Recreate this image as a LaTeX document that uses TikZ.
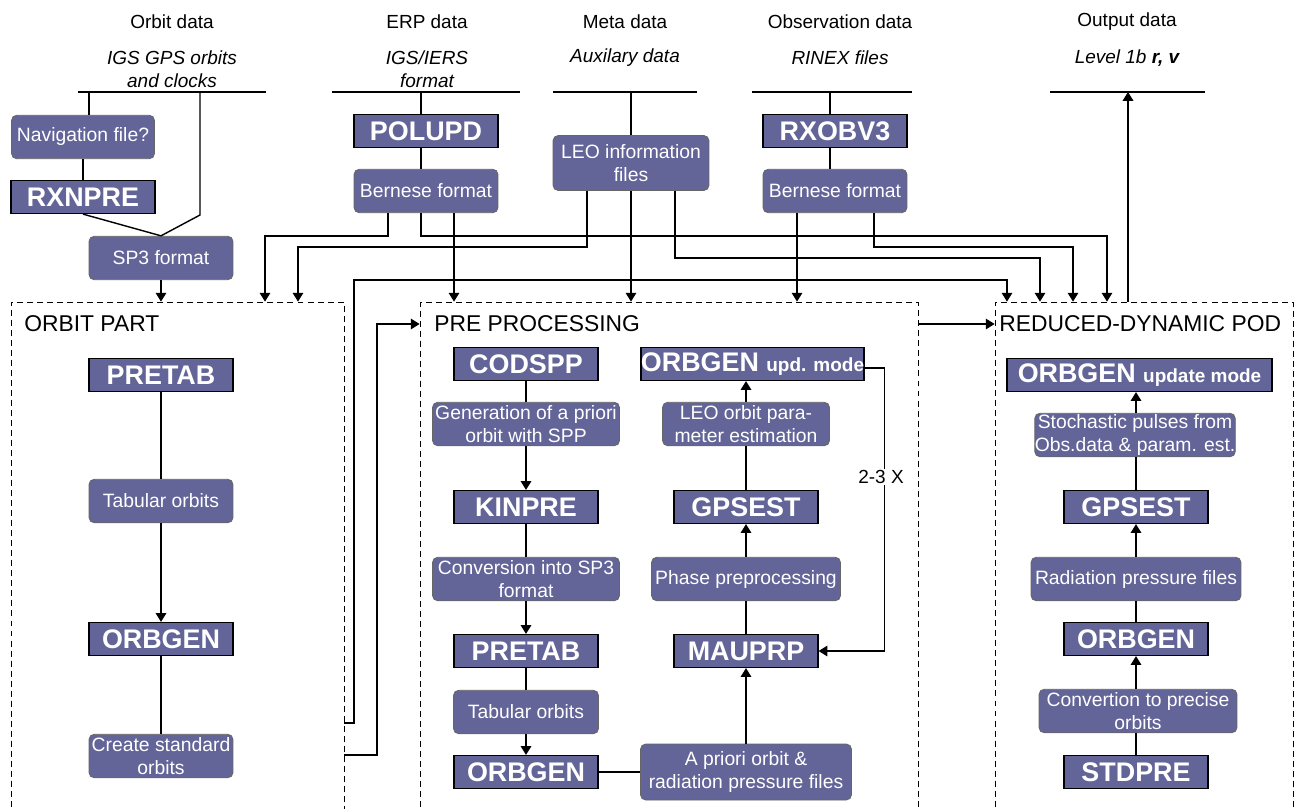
\documentclass[tikz,border=0pt]{standalone}
\usepackage{fontspec}
\setmainfont{Liberation Sans}
\usetikzlibrary{arrows.meta}
\definecolor{boxblue}{RGB}{99,100,152}
\tikzset{
  prog/.style={draw=black, line width=0.7pt, fill=boxblue, text=white,
    font=\fontsize{15.3}{16}\selectfont\bfseries, inner sep=0pt,
    minimum width=2.88cm, minimum height=0.66cm},
  info/.style={draw=black!60, line width=0.5pt, rounded corners=3pt, fill=boxblue,
    text=white, font=\fontsize{11}{13}\selectfont, align=center, inner sep=0pt,
    minimum height=0.87cm},
  part/.style={draw, dash pattern=on 3.4pt off 2.3pt, line width=0.5pt, inner sep=0pt},
  head/.style={font=\fontsize{10.8}{13}\selectfont},
  sub/.style={font=\fontsize{10.8}{13}\selectfont\itshape, align=center},
  title/.style={font=\fontsize{13}{15}\selectfont, anchor=west, inner sep=0pt},
  bar/.style={line width=1.3pt},
  link/.style={line width=0.8pt},
  arr/.style={link, -{Triangle[width=6pt,length=5pt]}},
}
\begin{document}
\begin{tikzpicture}[x=0.02cm,y=-0.02cm]
\useasboundingbox (0,0) rectangle (1301,808);

\node[head] (hOrbit) at (172,22) {Orbit data};
\node[head] (hErp) at (427,22) {ERP data};
\node[head] (hMeta) at (625,22) {Meta data};
\node[head] (hObs) at (840,22) {Observation data};
\node[head] (hOut) at (1127,22) {Output data};
\node[sub] (sOrbit) at (172,69.5) {IGS GPS orbits\\and clocks};
\node[sub] (sErp) at (427,69.5) {IGS/IERS\\format};
\node[sub] (sMeta) at (625,58) {Auxilary data};
\node[sub] (sObs) at (840,58) {RINEX files};
\node[sub] (sOut) at (1127,58) {Level 1b \textbf{r, v}};

\coordinate (b1a) at (78,92);   \coordinate (b1b) at (266,92);
\coordinate (b2a) at (332,92);  \coordinate (b2b) at (520,92);
\coordinate (b3a) at (553,92);  \coordinate (b3b) at (697,92);
\coordinate (b4a) at (752,92);  \coordinate (b4b) at (912,92);
\coordinate (b5a) at (1050,92); \coordinate (b5b) at (1205,92);
\draw[bar] (b1a) -- (b1b);
\draw[bar] (b2a) -- (b2b);
\draw[bar] (b3a) -- (b3b);
\draw[bar] (b4a) -- (b4b);
\draw[bar] (b5a) -- (b5b);
\coordinate (b1m) at (89,92);
\coordinate (b1n) at (200,92);
\coordinate (b2m) at (421,92);
\coordinate (b3m) at (631,92);
\coordinate (b4m) at (830,92);
\coordinate (b5m) at (1128,92);

% frames
\node[part, minimum width=6.66cm, minimum height=10.56cm] (orbitP) at (177.5,566) {};
\node[part, minimum width=9.96cm, minimum height=10.56cm] (preP) at (669,566) {};
\node[part, minimum width=5.96cm, minimum height=10.56cm] (redP) at (1144,566) {};
\node[title] (orbitT) at (24,324) {ORBIT PART};
\node[title] (preT) at (434,324) {PRE PROCESSING};
\node[title] (redT) at (999,324) {REDUCED-DYNAMIC POD};

% input boxes
\node[info, minimum width=2.86cm] (navfile) at (83,137) {Navigation file?};
\node[prog] (rxnpre) at (83,197) {RXNPRE};
\node[info, minimum width=2.88cm] (sp3) at (161,258) {SP3 format};
\node[prog] (polupd) at (426,131) {POLUPD};
\node[info, minimum width=2.88cm] (bernA) at (426,191) {Bernese format};
\node[info, minimum width=3.12cm, minimum height=1.1cm] (leoinfo) at (631,163) {LEO information\\files};
\node[prog] (rxobv3) at (835,131) {RXOBV3};
\node[info, minimum width=2.88cm] (bernB) at (835,191) {Bernese format};

\draw[link] (b1m) -- (b1m |- navfile.north);
\draw[link] (navfile) -- (rxnpre);
\coordinate (c0) at (200,215);
\draw[link] (rxnpre.south) -- (sp3.north) -- (c0) -- (b1n);
\draw[arr] (sp3.south) -- (sp3.south |- orbitP.north);
\draw[link] (b2m) -- (b2m |- polupd.north);
\draw[link] (b2m |- polupd.south) -- (b2m |- bernA.north);
\draw[link] (b3m) -- (leoinfo.north);
\draw[link] (b4m) -- (b4m |- rxobv3.north);
\draw[link] (b4m |- rxobv3.south) -- (b4m |- bernB.north);

\coordinate (eA1) at ([xshift=-0.76cm]bernA.south);
\coordinate (eA2) at ([xshift=-0.1cm]bernA.south);
\coordinate (eA3) at ([xshift=0.56cm]bernA.south);
\coordinate (eL1) at ([xshift=-0.88cm]leoinfo.south);
\coordinate (eL2) at (leoinfo.south);
\coordinate (eL3) at ([xshift=0.88cm]leoinfo.south);
\coordinate (eB1) at ([xshift=-0.76cm]bernB.south);
\coordinate (eB2) at ([xshift=0.78cm]bernB.south);
\coordinate (c1) at (265,236);
\coordinate (c2) at (1107,236);
\coordinate (c4) at (298,247);
\coordinate (c6) at (1040,258);
\coordinate (c8) at (1073,247);
\coordinate (c9) at (1007,280);

\draw[arr] (eA1) |- (c1) -- (c1 |- orbitP.north);
\draw[arr] (eA2) |- (c2) -- (c2 |- redP.north);
\draw[arr] (eA3) -- (eA3 |- preP.north);
\draw[arr] (eL1) |- (c4) -- (c4 |- orbitP.north);
\draw[arr] (eL2) -- (eL2 |- preP.north);
\draw[arr] (eL3) |- (c6) -- (c6 |- redP.north);
\draw[arr] (eB1) -- (eB1 |- preP.north);
\draw[arr] (eB2) |- (c8) -- (c8 |- redP.north);

\coordinate (o1) at (344,723);
\coordinate (o2) at (344,755);
\draw[arr] (o1) -- ++(10,0) |- (c9) -- (c9 |- redP.north);
\draw[arr] (o2) -- ++(33,0) |- (preP.west |- orbitT);
\draw[arr] (preP.east |- orbitT) -- (redP.west |- orbitT);
\draw[arr] (redP.north -| b5m) -- (b5m);

% orbit part
\node[prog] (pretabA) at (161,375) {PRETAB};
\node[info, minimum width=2.88cm] (tabA) at (161,501) {Tabular orbits};
\node[prog] (orbgenA) at (161,639) {ORBGEN};
\node[info, minimum width=2.88cm] (create) at (161,756) {Create standard\\orbits};
\draw[link] (pretabA) -- (tabA);
\draw[arr] (tabA) -- (orbgenA);
\draw[link] (orbgenA) -- (create);

% pre processing
\node[prog] (codspp) at (526,364) {CODSPP};
\node[info, minimum width=3.74cm] (gener) at (526,424) {Generation of a priori\\orbit with SPP};
\node[prog] (kinpre) at (526,507) {KINPRE};
\node[info, minimum width=3.74cm] (conv) at (526,579) {Conversion into SP3\\format};
\node[prog] (pretabB) at (526,651) {PRETAB};
\node[info, minimum width=2.9cm] (tabB) at (526,712) {Tabular orbits};
\node[prog] (orbgenB) at (526,772) {ORBGEN};
\draw[link] (codspp) -- (gener);
\draw[arr] (gener) -- (kinpre);
\draw[link] (kinpre) -- (conv);
\draw[arr] (conv) -- (pretabB);
\draw[link] (pretabB) -- (tabB);
\draw[arr] (tabB) -- (orbgenB);

\node[prog, minimum width=4.46cm] (orbgenU) at (752.5,364) {ORBGEN {\fontsize{10.8}{12}\selectfont upd. mode}};
\node[info, minimum width=3.34cm] (leoest) at (746,424) {LEO orbit para-\\meter estimation};
\node[prog] (gpsestB) at (746,507) {GPSEST};
\node[info, minimum width=3.78cm] (phase) at (746,579) {Phase preprocessing};
\node[prog] (mauprp) at (746,651) {MAUPRP};
\node[info, minimum width=4.22cm, minimum height=1.12cm] (apriori) at (746,772) {A priori orbit \&\\radiation pressure files};
\draw[link] (orbgenB) -- (apriori);
\draw[arr] (apriori) -- (mauprp);
\draw[link] (mauprp) -- (phase);
\draw[arr] (phase) -- (gpsestB);
\draw[link] (gpsestB) -- (leoest);
\draw[arr] (leoest.north) -- (leoest.north |- orbgenU.south);
\draw[arr] ([yshift=-0.08cm]orbgenU.east) -- ++(20,0) |- (mauprp.east);
\node[head, fill=white, inner sep=1pt] (loopnr) at (881,477) {2-3 X};

% reduced-dynamic pod
\node[prog, minimum width=5.3cm] (orbgenR) at (1139.5,375) {ORBGEN {\fontsize{10.8}{12}\selectfont update mode}};
\node[info, minimum width=4cm] (stoch) at (1135,435) {Stochastic pulses from\\Obs.data \& param. est.};
\node[prog] (gpsestR) at (1136,507) {GPSEST};
\node[info, minimum width=4.2cm] (radp) at (1136,579) {Radiation pressure files};
\node[prog] (orbgenC) at (1136,639) {ORBGEN};
\node[info, minimum width=3.96cm] (convp) at (1138,711) {Convertion to precise\\orbits};
\node[prog] (stdpre) at (1136,772) {STDPRE};
\draw[link] (stdpre) -- (stdpre |- convp.south);
\draw[arr] (convp.north -| orbgenC) -- (orbgenC.south);
\draw[link] (orbgenC) -- (radp);
\draw[arr] (radp) -- (gpsestR);
\draw[link] (gpsestR) -- (gpsestR |- stoch.south);
\draw[arr] (stoch.north -| gpsestR) -- (gpsestR |- orbgenR.south);
\end{tikzpicture}
\end{document}
